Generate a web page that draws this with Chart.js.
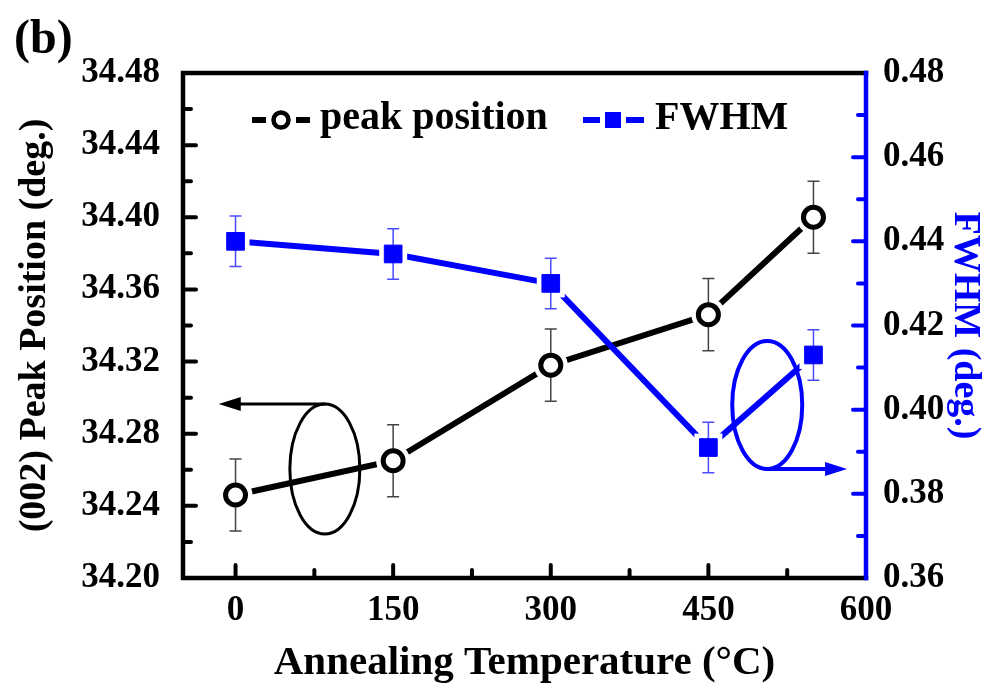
<!DOCTYPE html>
<html>
<head>
<meta charset="utf-8">
<script src="https://cdn.jsdelivr.net/npm/chart.js@4.4.0/dist/chart.umd.min.js"></script>
<style>
  html, body { margin: 0; padding: 0; background: #fff; }
  canvas { display: block; }
</style>
</head>
<body>
<canvas id="myChart" width="1001" height="692"></canvas>
<script>
// values
var temps = [0, 150, 300, 450, 550];
var peakPos = [34.246, 34.265, 34.318, 34.346, 34.400];
var peakErr = [0.02, 0.02, 0.02, 0.02, 0.02];
var fwhm = [0.440, 0.437, 0.430, 0.391, 0.413];
var fwhmErr = [0.006, 0.006, 0.006, 0.006, 0.006];

// tick labels
var xTicks = [0, 150, 300, 450, 600];
var yTicks = [34.20, 34.24, 34.28, 34.32, 34.36, 34.40, 34.44, 34.48];
var y2Ticks = [0.36, 0.38, 0.40, 0.42, 0.44, 0.46, 0.48];

var BLUE = '#0000ff';
var FONT = 'Liberation Serif, Times New Roman, serif';

function pts(xs, ys) {
  var out = [];
  for (let i = 0; i < xs.length; i++) out.push({x: xs[i], y: ys[i]});
  return out;
}

function setTicks(list) {
  return function(scale) {
    scale.ticks = list.map(function(v) { return {value: v}; });
  };
}

function arrowHead(ctx, x, y, dir) {
  ctx.beginPath();
  ctx.moveTo(x, y);
  ctx.lineTo(x - dir * 22, y - 7);
  ctx.lineTo(x - dir * 22, y + 7);
  ctx.closePath();
  ctx.fill();
}

// error bars, white gaps round the markers, frame, minor ticks, ovals, legend
var extras = {
  id: 'extras',
  beforeDatasetDraw: function(chart, args) {
    var ds = chart.data.datasets[args.index];
    if (!ds.errors) return;
    var ctx = chart.ctx;
    var ys = chart.scales[ds.yAxisID];
    ctx.save();
    ctx.fillStyle = '#fff';
    args.meta.data.forEach(function(p) {
      ctx.beginPath();
      if (ds.pointStyle === 'rect') ctx.rect(p.x - ds.gap, p.y - ds.gap, ds.gap * 2, ds.gap * 2);
      else ctx.arc(p.x, p.y, ds.gap, 0, Math.PI * 2);
      ctx.fill();
    });
    ctx.strokeStyle = ds.errorColor;
    ctx.lineWidth = 1.5;
    args.meta.data.forEach(function(p, i) {
      var t = ys.getPixelForValue(ds.data[i].y + ds.errors[i]);
      var b = ys.getPixelForValue(ds.data[i].y - ds.errors[i]);
      ctx.beginPath();
      ctx.moveTo(p.x, t); ctx.lineTo(p.x, b);
      ctx.moveTo(p.x - 6, t); ctx.lineTo(p.x + 6, t);
      ctx.moveTo(p.x - 6, b); ctx.lineTo(p.x + 6, b);
      ctx.stroke();
    });
    ctx.restore();
  },
  afterDraw: function(chart) {
    var ctx = chart.ctx;
    var a = chart.chartArea;
    var sx = chart.scales.x, sy = chart.scales.y, sy2 = chart.scales.y2;
    ctx.save();

    // frame
    ctx.lineWidth = 4.5;
    ctx.lineCap = 'square';
    ctx.strokeStyle = '#000';
    ctx.beginPath();
    ctx.moveTo(a.right, a.top); ctx.lineTo(a.left, a.top);
    ctx.lineTo(a.left, a.bottom); ctx.lineTo(a.right, a.bottom);
    ctx.stroke();
    ctx.strokeStyle = BLUE;
    ctx.beginPath();
    ctx.moveTo(a.right, a.top); ctx.lineTo(a.right, a.bottom);
    ctx.stroke();

    // inward ticks
    ctx.lineWidth = 4;
    ctx.lineCap = 'round';
    ctx.strokeStyle = '#000';
    ctx.beginPath();
    for (let i = 0; i < yTicks.length - 1; i++) {
      var y = sy.getPixelForValue(yTicks[i]);
      var ym = sy.getPixelForValue((yTicks[i] + yTicks[i + 1]) / 2);
      if (i > 0) { ctx.moveTo(a.left, y); ctx.lineTo(a.left + 13, y); }
      ctx.moveTo(a.left, ym); ctx.lineTo(a.left + 8, ym);
    }
    for (let i = 0; i < xTicks.length; i++) {
      var x = sx.getPixelForValue(xTicks[i]);
      if (xTicks[i] < 600) { ctx.moveTo(x, a.bottom); ctx.lineTo(x, a.bottom - 13); }
      if (i < xTicks.length - 1) {
        var xm = sx.getPixelForValue((xTicks[i] + xTicks[i + 1]) / 2);
        ctx.moveTo(xm, a.bottom); ctx.lineTo(xm, a.bottom - 8);
      }
    }
    ctx.stroke();
    ctx.strokeStyle = BLUE;
    ctx.beginPath();
    for (let i = 0; i < y2Ticks.length - 1; i++) {
      var y2 = sy2.getPixelForValue(y2Ticks[i]);
      var y2m = sy2.getPixelForValue((y2Ticks[i] + y2Ticks[i + 1]) / 2);
      if (i > 0) { ctx.moveTo(a.right, y2); ctx.lineTo(a.right - 13, y2); }
      ctx.moveTo(a.right, y2m); ctx.lineTo(a.right - 8, y2m);
    }
    ctx.stroke();

    // oval + arrow pointing at the left axis
    var cx = sx.getPixelForValue(85), cy = sy.getPixelForValue(34.2604);
    ctx.lineWidth = 3;
    ctx.strokeStyle = '#000';
    ctx.fillStyle = '#000';
    ctx.beginPath();
    ctx.ellipse(cx, cy, 35, 65, 0, 0, Math.PI * 2);
    ctx.stroke();
    var tip = sx.getPixelForValue(-16);
    ctx.beginPath();
    ctx.moveTo(cx, cy - 65); ctx.lineTo(tip + 15, cy - 65);
    ctx.stroke();
    arrowHead(ctx, tip, cy - 65, -1);

    // oval + arrow pointing at the right axis
    cx = sx.getPixelForValue(506); cy = sy2.getPixelForValue(0.4011);
    ctx.lineWidth = 4;
    ctx.strokeStyle = BLUE;
    ctx.fillStyle = BLUE;
    ctx.beginPath();
    ctx.ellipse(cx, cy, 35, 64, 0, 0, Math.PI * 2);
    ctx.stroke();
    tip = sx.getPixelForValue(582);
    ctx.beginPath();
    ctx.moveTo(cx, cy + 64); ctx.lineTo(tip - 15, cy + 64);
    ctx.stroke();
    arrowHead(ctx, tip, cy + 64, 1);

    // legend
    var ly = 120;
    ctx.lineCap = 'butt';
    ctx.lineWidth = 6;
    ctx.strokeStyle = '#000';
    ctx.beginPath();
    ctx.moveTo(252, ly); ctx.lineTo(266, ly);
    ctx.moveTo(296, ly); ctx.lineTo(310, ly);
    ctx.stroke();
    ctx.lineWidth = 4.5;
    ctx.fillStyle = '#fff';
    ctx.beginPath();
    ctx.arc(281, ly, 7.5, 0, Math.PI * 2);
    ctx.fill(); ctx.stroke();
    ctx.strokeStyle = BLUE;
    ctx.lineWidth = 6;
    ctx.beginPath();
    ctx.moveTo(583, ly); ctx.lineTo(600, ly);
    ctx.moveTo(626, ly); ctx.lineTo(644, ly);
    ctx.stroke();
    ctx.fillStyle = BLUE;
    ctx.fillRect(605, ly - 8, 16, 16);

    ctx.fillStyle = '#000';
    ctx.font = 'bold 40px ' + FONT;
    ctx.textBaseline = 'alphabetic';
    ctx.textAlign = 'left';
    ctx.fillText(chart.data.datasets[1].label, 320, 129);
    ctx.fillText(chart.data.datasets[3].label, 655, 129);

    // panel letter
    ctx.font = 'bold 48px ' + FONT;
    ctx.fillText('(b)', 14, 53);
    ctx.restore();
  }
};

var ctx = document.getElementById('myChart').getContext('2d');
var myChart = new Chart(ctx, {
  type: 'line',
  data: {
    datasets: [{
      label: 'peak line',
      data: pts(temps, peakPos),
      yAxisID: 'y',
      order: 4,
      borderColor: '#000',
      borderWidth: 6,
      borderCapStyle: 'round',
      pointRadius: 0,
      fill: false
    }, {
      label: 'peak position',
      data: pts(temps, peakPos),
      yAxisID: 'y',
      order: 3,
      showLine: false,
      errors: peakErr,
      errorColor: '#444',
      gap: 17,
      pointStyle: 'circle',
      pointRadius: 10,
      pointBorderWidth: 5,
      pointBorderColor: '#000',
      pointBackgroundColor: '#fff'
    }, {
      label: 'FWHM line',
      data: pts(temps, fwhm),
      yAxisID: 'y2',
      order: 2,
      borderColor: BLUE,
      borderWidth: 6,
      borderCapStyle: 'round',
      pointRadius: 0,
      fill: false
    }, {
      label: 'FWHM',
      data: pts(temps, fwhm),
      yAxisID: 'y2',
      order: 1,
      showLine: false,
      errors: fwhmErr,
      errorColor: '#4b4bff',
      gap: 14,
      pointStyle: 'rect',
      pointRadius: 12.5,
      pointBorderWidth: 1,
      pointBorderColor: BLUE,
      pointBackgroundColor: BLUE
    }]
  },
  options: {
    responsive: false,
    animation: false,
    devicePixelRatio: 1,
    layout: { padding: { top: 73, left: 0, right: 0, bottom: 0 } },
    plugins: {
      legend: { display: false },
      tooltip: { enabled: false }
    },
    scales: {
      x: {
        type: 'linear',
        min: -50,
        max: 600,
        afterBuildTicks: setTicks(xTicks),
        afterFit: function(s) { s.height = 114; },
        grid: { display: false },
        border: { display: false },
        ticks: {
          padding: 4,
          color: '#000',
          font: { family: FONT, size: 35, weight: 'bold' },
          callback: function(v) { return v; }
        },
        title: {
          display: true,
          text: 'Annealing Temperature (°C)',
          color: '#000',
          padding: { top: 0, bottom: 4 },
          font: { family: FONT, size: 41, weight: 'bold' }
        }
      },
      y: {
        position: 'left',
        min: 34.20,
        max: 34.48,
        afterBuildTicks: setTicks(yTicks),
        afterFit: function(s) { s.width = 183; },
        grid: { display: false },
        border: { display: false },
        ticks: {
          padding: 15,
          color: '#000',
          font: { family: FONT, size: 35, weight: 'bold' },
          callback: function(v) { return v.toFixed(2); }
        },
        title: {
          display: true,
          text: '(002) Peak Position (deg.)',
          color: '#000',
          padding: { top: 12, bottom: 0 },
          font: { family: FONT, size: 38, weight: 'bold' }
        }
      },
      y2: {
        position: 'right',
        min: 0.36,
        max: 0.48,
        afterBuildTicks: setTicks(y2Ticks),
        afterFit: function(s) { s.width = 135; },
        grid: { display: false },
        border: { display: false },
        ticks: {
          padding: 9,
          color: '#000',
          font: { family: FONT, size: 35, weight: 'bold' },
          callback: function(v) { return v.toFixed(2); }
        },
        title: {
          display: true,
          text: 'FWHM (deg.)',
          color: BLUE,
          padding: { top: 13, bottom: 0 },
          font: { family: FONT, size: 38, weight: 'bold' }
        }
      }
    }
  },
  plugins: [extras]
});
</script>
</body>
</html>
